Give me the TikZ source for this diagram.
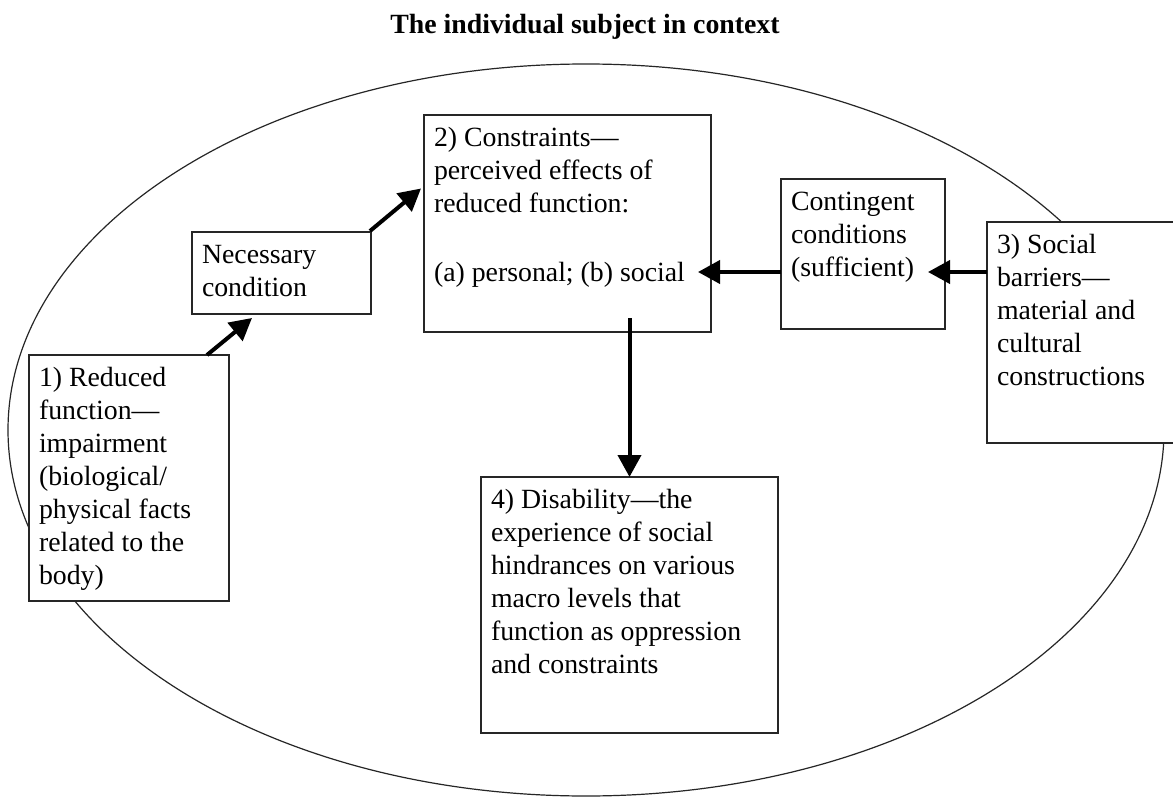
\documentclass[tikz,border=0pt]{standalone}
\usepackage{fontspec}
\setmainfont{Liberation Serif}
\usetikzlibrary{arrows.meta,shapes.geometric}
\newcommand{\boxtxt}[3]{\parbox[c][#2][t]{#1}{\raggedright\strut#3}}
\tikzset{
  stagebox/.style={draw=black!85, line width=1.5pt, fill=white, anchor=north west,
    inner xsep=10pt, inner ysep=8.5pt, outer sep=0pt,
    font=\fontsize{27.8}{33}\selectfont},
  arr/.style={line width=4pt, -{Triangle[length=22pt,width=23pt]}},
}
\begin{document}
\begin{tikzpicture}[x=1pt,y=-1pt]
\useasboundingbox[fill=white] (0,0) rectangle (1173,797);
\node[font=\fontsize{27.8}{33}\selectfont\bfseries, anchor=base] (title) at (585,34) {The individual subject in context};
\node[ellipse, draw=black!85, line width=1.2pt, minimum width=1156pt, minimum height=732pt, inner sep=0pt, outer sep=0pt] (ctx) at (586,430) {};

\node[stagebox] (b1) at (29,355) {\boxtxt{180pt}{229pt}{1) Reduced\\ function---\\ impairment\\ (biological/\\ physical facts\\ related to the\\ body)}};
\node[stagebox] (nec) at (192,232) {\boxtxt{159pt}{65pt}{Necessary\\ condition}};
\node[stagebox] (b2) at (424,115) {\boxtxt{267pt}{200pt}{2) Constraints---\\ perceived effects of\\ reduced function:\\[36pt] (a) personal; (b) social}};
\node[stagebox] (cont) at (781,179) {\boxtxt{144pt}{133pt}{Contingent\\ conditions\\ (sufficient)}};
\node[stagebox] (b3) at (987,222) {\boxtxt{180pt}{204pt}{3) Social\\ barriers---\\ material and\\ cultural\\ constructions}};
\node[stagebox] (b4) at (481,477) {\boxtxt{277pt}{239pt}{4) Disability---the\\ experience of social\\ hindrances on various\\ macro levels that\\ function as oppression\\ and constraints}};

\coordinate (hy) at ([yshift=-18pt]cont.west);
\coordinate (b2r) at (b2.east |- hy);
\coordinate (cr) at (cont.east |- hy);
\coordinate (b3l) at (b3.west |- hy);
\coordinate (dtop) at (b4.north |- b2.south);

\draw[arr] ([xshift=78pt]b1.north) -- ([xshift=-29.5pt,yshift=-4pt]nec.south);
\draw[arr] ([xshift=-1pt,yshift=1pt]nec.north east) -- ([xshift=-3pt,yshift=35pt]b2.west);
\draw[arr] (hy) -- ([xshift=-13pt]b2r);
\draw[arr] (b3l) -- ([xshift=-17pt]cr);
\draw[arr] ([yshift=14pt]dtop) -- (b4.north);
\end{tikzpicture}
\end{document}
